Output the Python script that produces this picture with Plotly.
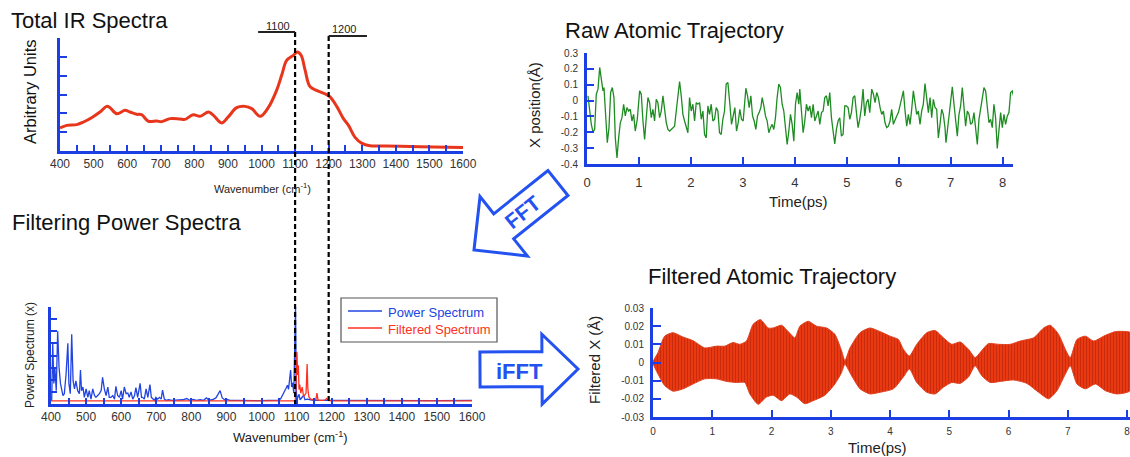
import math
import plotly.graph_objects as go

W, H = 1130, 457
BLUE = "#1c3fe4"
ARROW_BLUE = "#2352f0"
FONT = "Liberation Sans, Arial, sans-serif"

# ---------------- data ----------------
# Total IR spectrum (wavenumber cm-1, arbitrary units)
ir_w = [400, 420, 450, 470, 494, 519, 539, 549, 569, 594, 608, 628, 643, 663, 688, 703, 728, 757,
        772, 797, 817, 842, 857, 881, 901, 926, 951, 971, 996, 1020, 1045, 1060, 1075, 1095, 1107,
        1118, 1130, 1144, 1164, 1189, 1204, 1224, 1244, 1259, 1278, 1298, 1323, 1363, 1413, 1512, 1600]
ir_v = [1.22, 1.36, 1.40, 1.54, 1.77, 2.07, 2.37, 2.30, 1.98, 2.16, 2.07, 1.95, 1.93, 1.58, 1.59, 1.56,
        1.72, 1.70, 1.68, 1.93, 1.84, 2.07, 1.89, 1.49, 1.81, 2.30, 2.37, 2.25, 1.84, 2.30, 3.22, 4.02,
        4.81, 5.08, 5.26, 5.08, 4.28, 3.43, 3.22, 3.04, 2.87, 2.37, 1.72, 1.36, 0.74, 0.42, 0.28, 0.27,
        0.25, 0.21, 0.19]

# Raw atomic trajectory (ps, Angstrom)
raw_t = [0.019, 0.051, 0.083, 0.115, 0.147, 0.179, 0.212, 0.244, 0.276, 0.308, 0.327, 0.359, 0.391,
         0.423, 0.455, 0.487, 0.519, 0.545, 0.577, 0.609, 0.641, 0.673, 0.705, 0.737, 0.769, 0.801,
         0.833, 0.865, 0.897, 0.929, 0.968, 1.013, 1.045, 1.077, 1.109, 1.141, 1.173, 1.205, 1.237,
         1.269, 1.301, 1.333, 1.365, 1.397, 1.429, 1.462, 1.494, 1.526, 1.558, 1.590, 1.622, 1.654,
         1.686, 1.718, 1.750, 1.782, 1.814, 1.846, 1.878, 1.910, 1.942, 1.974, 2.006, 2.038, 2.071,
         2.103, 2.135, 2.167, 2.199, 2.231, 2.263, 2.295, 2.327, 2.359, 2.391, 2.423, 2.455, 2.487,
         2.519, 2.551, 2.583, 2.615, 2.647, 2.679, 2.712,
         2.750, 2.782, 2.814, 2.846, 2.878, 2.910, 2.942, 2.974, 3.006, 3.038, 3.058, 3.090, 3.122,
         3.154, 3.186, 3.218, 3.250, 3.282, 3.314, 3.346, 3.372, 3.404, 3.436, 3.468, 3.500, 3.532,
         3.564, 3.596, 3.628, 3.660, 3.692, 3.724, 3.756, 3.788, 3.821, 3.853, 3.885, 3.917, 3.949,
         3.981, 4.013, 4.045, 4.077, 4.096, 4.128, 4.160, 4.192, 4.224, 4.256, 4.288, 4.321, 4.353,
         4.385, 4.417, 4.449, 4.481, 4.513, 4.545, 4.577, 4.609, 4.641, 4.673, 4.705, 4.737, 4.769,
         4.801, 4.833, 4.865, 4.897, 4.929, 4.962, 4.994, 5.026, 5.058, 5.090, 5.122, 5.154, 5.186,
         5.218, 5.250, 5.282, 5.314, 5.346, 5.378, 5.410, 5.442,
         5.481, 5.513, 5.545, 5.577, 5.609, 5.641, 5.673, 5.705, 5.737, 5.769, 5.801, 5.833, 5.865,
         5.897, 5.929, 5.962, 5.994, 6.026, 6.058, 6.090, 6.122, 6.154, 6.186, 6.218, 6.250, 6.282,
         6.314, 6.346, 6.378, 6.410, 6.442, 6.474, 6.506, 6.538, 6.571, 6.603, 6.635, 6.667, 6.699,
         6.731, 6.763, 6.795, 6.827, 6.859, 6.891, 6.910, 6.936, 6.968, 7.000, 7.032, 7.064, 7.096,
         7.128, 7.160, 7.192, 7.224, 7.256, 7.288, 7.321, 7.353, 7.385, 7.417, 7.449, 7.481, 7.513,
         7.545, 7.577, 7.609, 7.641, 7.673, 7.705, 7.737, 7.769, 7.801, 7.833, 7.865, 7.897, 7.929,
         7.962, 7.994, 8.026, 8.058, 8.090, 8.122, 8.154, 8.186, 8.218]
raw_x = [0.030, -0.066, -0.150, -0.197, -0.182, 0.040, 0.072, 0.209, 0.146, 0.061, 0.082, -0.087, -0.266,
         -0.171, 0.051, 0.082, 0.019, -0.235, -0.362, -0.235, -0.140, -0.108, -0.023, -0.097, -0.044, -0.066,
         -0.055, -0.129, -0.087, -0.192, -0.118, 0.061, 0.040, -0.129, -0.245, -0.108, 0.019, -0.013, -0.108,
         -0.055, -0.129, 0.008, -0.013, -0.108, -0.066, 0.030, -0.066, -0.140, -0.182, -0.192, -0.182, -0.171,
         -0.161, -0.066, 0.040, 0.120, 0.030, -0.087, -0.129, -0.171, -0.203, 0.019, -0.066, -0.023, -0.129,
         -0.013, -0.023, -0.013, -0.118, -0.066, -0.214, -0.235, -0.034, -0.087, -0.023, -0.129, -0.118, -0.044,
         -0.066, -0.203, -0.214, -0.118, -0.066, 0.104, 0.114,
         -0.023, -0.150, -0.097, -0.044, -0.192, -0.140, -0.055, -0.118, -0.129, -0.023, 0.078, 0.030, -0.044,
         0.030, -0.097, -0.129, -0.182, -0.097, -0.076, -0.044, 0.019, -0.034, -0.097, -0.129, -0.203, -0.171,
         -0.150, -0.182, -0.108, 0.019, 0.104, 0.082, -0.023, -0.066, -0.171, -0.277, -0.192, -0.087, -0.150,
         -0.256, -0.023, 0.051, -0.023, 0.072, -0.066, -0.203, -0.129, -0.023, -0.066, -0.034, -0.108, -0.023,
         -0.129, -0.097, -0.066, -0.150, -0.076, -0.066, 0.019, 0.030, -0.034, 0.051, -0.108, -0.192, -0.273,
         -0.182, -0.129, -0.108, -0.224, -0.214, -0.034, -0.034, -0.044, -0.118, -0.076, 0.019, 0.030, -0.076,
         -0.171, -0.118, -0.044, 0.072, -0.097, -0.013, 0.008, -0.076,
         0.072, 0.040, -0.013, 0.051, 0.019, -0.044, -0.087, -0.066, -0.140, -0.171, -0.161, -0.129, -0.055,
         -0.150, -0.118, -0.097, -0.076, -0.034, 0.019, 0.061, -0.066, -0.161, -0.087, -0.150, -0.055, 0.061,
         -0.013, -0.087, -0.066, -0.150, -0.066, -0.023, 0.108, 0.008, -0.076, 0.019, -0.108, 0.008, -0.044,
         -0.055, -0.235, -0.150, -0.055, -0.087, -0.171, -0.266, -0.182, -0.118, 0.008, 0.087, -0.023, -0.129,
         -0.224, -0.087, -0.034, 0.082, -0.066, -0.161, -0.066, -0.087, -0.150, -0.140, -0.076, -0.171, -0.277,
         -0.118, -0.044, 0.040, 0.082, 0.061, -0.066, -0.140, -0.118, -0.171, -0.023, -0.108, -0.302, -0.182,
         -0.076, -0.171, -0.087, -0.150, -0.097, -0.076, 0.051, 0.061, 0.019]

# Power spectrum (wavenumber, arbitrary)
ps_w = [400, 402, 405, 408, 411, 415, 419, 423, 427, 430, 434, 438, 443, 448, 451, 455, 459, 463, 467,
        471, 476, 481, 484, 487, 491, 495, 500, 505, 509, 514, 519, 524, 528, 533, 538, 543, 547, 552,
        557, 562, 566, 571, 576, 581, 585, 590, 595, 600, 604, 609, 614, 619, 623, 628, 633, 638, 642,
        647, 654, 658, 661, 666, 671, 676, 682, 686, 690, 695, 699, 704, 709, 714, 718, 723, 728, 735,
        745, 755, 765, 775, 787, 795, 805, 815, 825, 835, 843, 850, 860, 870, 876, 882, 888, 895, 900,
        910, 930, 950, 980, 1000, 1020, 1040, 1050, 1055, 1060, 1065, 1070, 1074, 1077, 1080, 1083,
        1086, 1089, 1092, 1094, 1097, 1099, 1101, 1104, 1107, 1110, 1115, 1120, 1124, 1130, 1140, 1150,
        1200, 1300, 1400, 1500, 1600]
ps_v = [0.30, 0.30, 5.00, 1.70, 3.00, 1.10, 6.00, 3.00, 1.70, 1.10, 0.70, 0.85, 2.50, 5.00, 1.70, 0.85,
        5.75, 1.90, 1.25, 1.90, 1.10, 0.85, 2.80, 1.10, 1.40, 0.55, 1.25, 0.55, 1.10, 0.40, 1.25, 0.70,
        0.55, 0.70, 0.85, 1.10, 2.20, 1.25, 0.70, 1.40, 0.55, 0.55, 0.70, 0.40, 1.45, 0.70, 0.55, 1.10,
        0.40, 1.40, 0.85, 0.90, 0.55, 1.00, 0.40, 0.70, 1.35, 0.55, 1.70, 0.55, 0.55, 0.40, 1.25, 0.55,
        1.60, 0.55, 0.40, 0.30, 0.55, 0.40, 0.55, 0.40, 1.15, 0.40, 0.30, 0.35, 0.30, 0.32, 0.30, 0.35,
        0.45, 0.30, 0.38, 0.30, 0.35, 0.30, 0.50, 0.32, 0.35, 0.50, 0.80, 1.10, 0.50, 0.35, 0.40, 0.30,
        0.30, 0.28, 0.30, 0.28, 0.30, 0.30, 0.32, 0.45, 0.70, 1.00, 1.30, 1.55, 1.20, 2.00, 2.80, 1.40,
        1.75, 0.90, 3.10, 8.00, 1.20, 0.30, 0.60, 0.80, 0.35, 0.50, 0.70, 0.35, 0.40, 0.35, 0.30, 0.30,
        0.28, 0.30, 0.28, 0.30]

# Filtered spectrum (1100-1200 window)
fs_w = [400, 1096, 1098, 1101, 1103, 1105, 1107, 1109, 1112, 1116, 1120, 1124, 1127, 1130, 1132, 1135,
        1140, 1145, 1150, 1155, 1158, 1161, 1165, 1175, 1182, 1186, 1190, 1200, 1600]
fs_v = [0.25, 0.25, 1.20, 4.30, 2.40, 3.20, 1.20, 1.60, 0.90, 1.40, 0.60, 0.80, 0.90, 3.30, 1.30, 0.60,
        0.40, 0.35, 0.45, 0.35, 0.90, 0.35, 0.30, 0.30, 0.35, 0.45, 0.30, 0.25, 0.25]

# Filtered atomic trajectory envelope (ps, Angstrom)
env_up_t = [0, 0.085, 0.197, 0.338, 0.507, 0.676, 0.873, 1.070, 1.211, 1.352, 1.465, 1.577, 1.690, 1.814,
            1.944, 2.028, 2.169, 2.282, 2.394, 2.479, 2.620, 2.761, 2.930, 3.070, 3.183, 3.239, 3.324,
            3.493, 3.662, 3.831, 4.000, 4.141, 4.225, 4.327, 4.451, 4.620, 4.761, 4.901, 5.042, 5.183,
            5.324, 5.437, 5.521, 5.662, 5.831, 6.028, 6.197, 6.423, 6.592, 6.704, 6.845, 6.958, 7.042,
            7.155, 7.296, 7.437, 7.606, 7.803, 8.000, 8.050]
env_up = [0, 0.0055, 0.0145, 0.0164, 0.0140, 0.0120, 0.0080, 0.0090, 0.0090, 0.0110, 0.0100, 0.0118,
          0.0210, 0.0236, 0.0190, 0.0190, 0.0205, 0.0170, 0.0136, 0.0200, 0.0227, 0.0200, 0.0190, 0.0155,
          0.0064, 0.0010, 0.0080, 0.0164, 0.0190, 0.0170, 0.0145, 0.0127, 0.0073, 0.0036, 0.0100, 0.0164,
          0.0176, 0.0136, 0.0100, 0.0113, 0.0073, 0.0027, 0.0055, 0.0104, 0.0100, 0.0100, 0.0118, 0.0136,
          0.0190, 0.0205, 0.0155, 0.0073, 0.0027, 0.0127, 0.0145, 0.0118, 0.0145, 0.0170, 0.0170, 0.0165]
env_lo_t = [0, 0.085, 0.197, 0.338, 0.507, 0.676, 0.873, 1.070, 1.239, 1.408, 1.549, 1.634, 1.775, 1.915,
            2.028, 2.169, 2.310, 2.423, 2.563, 2.704, 2.901, 3.070, 3.183, 3.239, 3.352, 3.493, 3.662,
            3.831, 4.056, 4.225, 4.327, 4.451, 4.620, 4.761, 4.901, 5.042, 5.183, 5.324, 5.437, 5.549,
            5.690, 5.859, 6.085, 6.310, 6.507, 6.676, 6.817, 6.958, 7.042, 7.155, 7.296, 7.465, 7.634,
            7.831, 8.050]
env_lo = [0, -0.0064, -0.0127, -0.0158, -0.0145, -0.0118, -0.0090, -0.0090, -0.0104, -0.0110, -0.0110,
          -0.0173, -0.0230, -0.0190, -0.0180, -0.0210, -0.0173, -0.0190, -0.0227, -0.0210, -0.0180, -0.0118,
          -0.0055, -0.0010, -0.0073, -0.0145, -0.0173, -0.0164, -0.0145, -0.0080, -0.0036, -0.0110, -0.0164,
          -0.0173, -0.0136, -0.0110, -0.0115, -0.0080, -0.0018, -0.0073, -0.0110, -0.0104, -0.0096, -0.0115,
          -0.0164, -0.0200, -0.0155, -0.0064, -0.0018, -0.0118, -0.0145, -0.0118, -0.0155, -0.0173, -0.0155]

# tick labels
wn_ticks = list(range(400, 1601, 100))
raw_yticks = [-0.4, -0.3, -0.2, -0.1, 0, 0.1, 0.2, 0.3]
raw_yticktext = ["-0.4", "-0.3", "-0.2", "-0.1", "0", "0.1", "0.2", "0.3"]
filt_yticks = [-0.03, -0.02, -0.01, 0, 0.01, 0.02, 0.03]
filt_yticktext = ["-0.03", "-0.02", "-0.01", "0", "0.01", "0.02", "0.03"]
time_ticks = list(range(0, 9))
filter_window = [1100, 1200]


# ---------------- helpers ----------------
def px(x):
    return x / W


def py(y):
    return 1 - y / H


def dom_x(a, b):
    return [px(a), px(b)]


def dom_y(top, bottom):
    return [py(bottom), py(top)]


def arrow_path(tail, tip, bw, hw, hl):
    tx, ty = tail
    hx, hy = tip
    dx, dy = hx - tx, hy - ty
    L = math.hypot(dx, dy)
    ux, uy = dx / L, dy / L
    nx, ny = -uy, ux
    bx, by = hx - ux * hl, hy - uy * hl
    pts = [(tx + nx * bw, ty + ny * bw), (bx + nx * bw, by + ny * bw), (bx + nx * hw, by + ny * hw),
           (hx, hy), (bx - nx * hw, by - ny * hw), (bx - nx * bw, by - ny * bw),
           (tx - nx * bw, ty - ny * bw)]
    return "M " + " L ".join(f"{px(a):.5f},{py(b):.5f}" for a, b in pts) + " Z"


fig = go.Figure()

# Panel 1: total IR
fig.add_trace(go.Scatter(x=ir_w, y=ir_v, mode="lines", line=dict(color="#e8361c", width=3, shape="spline"),
                         xaxis="x", yaxis="y", showlegend=False))
# Panel 2: raw trajectory
fig.add_trace(go.Scatter(x=raw_t, y=raw_x, mode="lines", line=dict(color="#1e8c22", width=1.3),
                         xaxis="x2", yaxis="y2", showlegend=False))
# Panel 3: power spectra
fig.add_trace(go.Scatter(x=ps_w, y=ps_v, mode="lines", name="Power Spectrum",
                         line=dict(color="#2244e0", width=1.3), xaxis="x3", yaxis="y3", showlegend=False))
fig.add_trace(go.Scatter(x=fs_w, y=fs_v, mode="lines", name="Filtered Spectrum",
                         line=dict(color="#ff3020", width=1.3), xaxis="x3", yaxis="y3", showlegend=False))
# Panel 4: filtered trajectory (envelope of the fast oscillation)
poly_t = env_up_t + env_lo_t[::-1]
poly_v = env_up + env_lo[::-1]
fig.add_trace(go.Scatter(x=poly_t, y=poly_v, mode="lines", fill="toself",
                         line=dict(color="#e0401f", width=1, shape="spline", smoothing=0.6),
                         fillcolor="#e8330c",
                         fillpattern=dict(shape="|", size=3, solidity=0.3, fgcolor="#c22a0c",
                                          bgcolor="#ea3810", fillmode="replace"),
                         xaxis="x4", yaxis="y4", showlegend=False))

axis_common = dict(showline=True, linecolor=BLUE, linewidth=3, ticks="inside", tickcolor=BLUE,
                   tickwidth=2, showgrid=False, zeroline=False, automargin=False,
                   ticklabeloverflow="allow")


def tf(size):
    return dict(family=FONT, color="#333333", size=size)


fig.update_layout(
    width=W, height=H, margin=dict(l=0, r=0, t=0, b=0, pad=0, autoexpand=False),
    paper_bgcolor="white", plot_bgcolor="white", font=dict(family=FONT),
    xaxis=dict(domain=dom_x(60, 463), range=[400, 1600], tickvals=wn_ticks, ticklen=6, tickfont=tf(12),
               minor=dict(dtick=50, ticks="inside", ticklen=6, tickwidth=2, tickcolor=BLUE),
               anchor="y", **axis_common),
    yaxis=dict(domain=dom_y(38, 151), range=[0, 6], dtick=1, ticklen=7, showticklabels=False,
               anchor="x", **axis_common),
    xaxis2=dict(domain=dom_x(587, 1013), range=[0, 8.2], tickvals=time_ticks, ticklen=7, tickfont=tf(13),
                anchor="y2", ticklabelstandoff=4, **axis_common),
    yaxis2=dict(domain=dom_y(53, 164), range=[-0.4, 0.3], tickvals=raw_yticks, ticktext=raw_yticktext,
                ticklen=7, anchor="x2", ticklabelstandoff=4, tickfont=tf(10), **axis_common),
    xaxis3=dict(domain=dom_x(51, 472), range=[400, 1600], tickvals=wn_ticks, ticklen=6, tickfont=tf(12),
                minor=dict(dtick=50, ticks="inside", ticklen=6, tickwidth=2, tickcolor=BLUE),
                anchor="y3", **axis_common),
    yaxis3=dict(domain=dom_y(307, 404), range=[0, 8], dtick=1, ticklen=6, showticklabels=False,
                anchor="x3", **axis_common),
    xaxis4=dict(domain=dom_x(653, 1130), range=[0, 8.05], tickvals=time_ticks, ticklen=7, tickfont=tf(10),
                anchor="y4", ticklabelstandoff=3, **axis_common),
    yaxis4=dict(domain=dom_y(308, 417), range=[-0.03, 0.03], tickvals=filt_yticks, ticktext=filt_yticktext,
                ticklen=8, anchor="x4", ticklabelstandoff=4, tickfont=tf(10), **axis_common),
)

ann = []


def text(x, y, s, size, color="#111111", xanchor="center", angle=0, bold=False):
    ann.append(dict(x=px(x), y=py(y), xref="paper", yref="paper", text=(f"<b>{s}</b>" if bold else s),
                    showarrow=False, xanchor=xanchor, yanchor="middle", textangle=angle,
                    font=dict(family=FONT, size=size, color=color)))


# titles
text(9, 20, "Total IR Spectra", 22, xanchor="left")
text(563, 31, "Raw Atomic Trajectory", 22, xanchor="left")
text(10, 223, "Filtering Power Spectra", 22, xanchor="left")
text(646, 276, "Filtered Atomic Trajectory", 22, xanchor="left")
# axis titles
text(30, 92, "Arbitrary Units", 16.5, angle=-90)
text(262, 188, "Wavenumber (cm<sup>-1</sup>)", 11, color="#222")
text(535, 105, "X position(Å)", 15, angle=-90, color="#222")
text(798, 201, "Time(ps)", 15, color="#222")
text(30, 355, "Power Spectrum (x)", 12, angle=-90, color="#222")
text(290, 437, "Wavenumber (cm<sup>-1</sup>)", 13, color="#222")
text(594, 360, "Filtered X (Å)", 15, angle=-90, color="#222")
text(877, 447, "Time(ps)", 15, color="#222")
# bracket labels
text(278, 26, str(filter_window[0]), 11, color="#222")
text(344, 29, str(filter_window[1]), 11, color="#222")
# arrow labels
text(522, 212, "FFT", 21, color=ARROW_BLUE, angle=-38.6, bold=True)
text(519, 371, "iFFT", 22, color=ARROW_BLUE, bold=True)
# manual legend texts
text(386, 312, "Power Spectrum", 13, color="#2244e0", xanchor="left")
text(386, 329, "Filtered Spectrum", 13, color="#ff3020", xanchor="left")

shapes = []
# dashed window lines spanning panels 1 and 3
shapes.append(dict(type="line", xref="x", yref="paper", x0=filter_window[0], x1=filter_window[0],
                   y0=py(32), y1=py(404), line=dict(color="black", width=2.2, dash="5px,3px")))
shapes.append(dict(type="line", xref="x", yref="paper", x0=filter_window[1], x1=filter_window[1],
                   y0=py(36), y1=py(404), line=dict(color="black", width=2.2, dash="5px,3px")))
# brackets
shapes.append(dict(type="line", xref="x", yref="paper", x0=990, x1=filter_window[0], y0=py(32), y1=py(32),
                   line=dict(color="#222", width=2)))
shapes.append(dict(type="line", xref="x", yref="paper", x0=filter_window[1], x1=1314, y0=py(36), y1=py(36),
                   line=dict(color="#222", width=2)))
# arrows
shapes.append(dict(type="path", xref="paper", yref="paper",
                   path=arrow_path((558, 183), (474, 250), 16, 38, 38),
                   line=dict(color=ARROW_BLUE, width=3), fillcolor="white"))
shapes.append(dict(type="path", xref="paper", yref="paper",
                   path=arrow_path((480, 369.5), (578, 369), 17.5, 35, 36),
                   line=dict(color=ARROW_BLUE, width=3), fillcolor="white"))
# legend box and samples
shapes.append(dict(type="rect", xref="paper", yref="paper", x0=px(341), x1=px(497), y0=py(342), y1=py(298),
                   line=dict(color="#555555", width=1.2), fillcolor="white"))
shapes.append(dict(type="line", xref="paper", yref="paper", x0=px(348), x1=px(382), y0=py(311), y1=py(311),
                   line=dict(color="#2244e0", width=1.3)))
shapes.append(dict(type="line", xref="paper", yref="paper", x0=px(348), x1=px(382), y0=py(328), y1=py(328),
                   line=dict(color="#ff3020", width=1.3)))

fig.update_layout(annotations=ann, shapes=shapes)
fig.write_html("out.html", config={"displayModeBar": False})
